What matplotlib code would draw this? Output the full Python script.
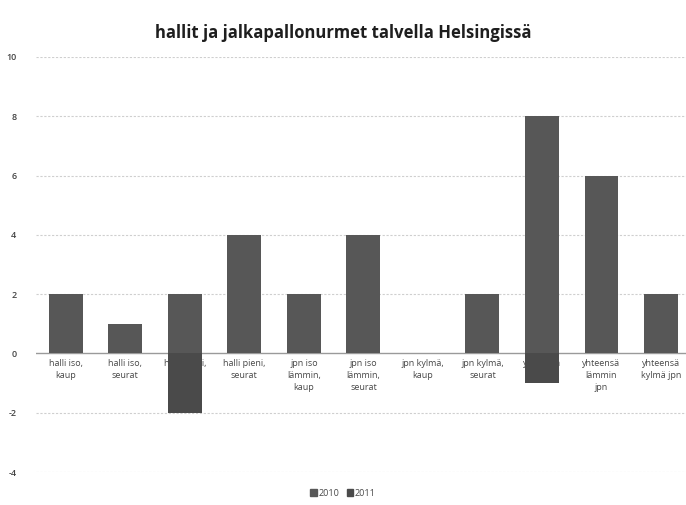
import numpy as np
import matplotlib.pyplot as plt
from matplotlib.patches import Patch

# kategoriat ja arvot luettu kuvasta
categories = ["halli iso,\nkaup", "halli iso,\nseurat", "halli pieni,\nkaup", "halli pieni,\nseurat",
              "jpn iso\nlämmin,\nkaup", "jpn iso\nlämmin,\nseurat", "jpn kylmä,\nkaup", "jpn kylmä,\nseurat",
              "yhteensä\nhallit", "yhteensä\nlämmin\njpn", "yhteensä\nkylmä jpn"]
values_2010 = [2, 1, 2, 4, 2, 4, 0, 2, 8, 6, 2]
values_2011 = [0, 0, -2, 0, 0, 0, 0, 0, -1, 0, 0]
series_names = ["2010", "2011"]
y_ticks = [-4, -2, 0, 2, 4, 6, 8, 10]

plt.rcParams['font.family'] = ['Open Sans', 'DejaVu Sans']

fig = plt.figure(figsize=(6.86, 5.05), dpi=100)
ax = fig.add_axes([36 / 686, 1 - 472 / 505, 1 - 36 / 686, (472 - 57) / 505])

x = np.arange(len(categories))
bar_col = '#575757'
ax.bar(x, values_2010, width=0.57, color=bar_col, zorder=3)
ax.bar(x, values_2011, width=0.57, color='#4a4a4a', zorder=3)

ax.set_ylim(-4, 10)
ax.set_xlim(-0.5, 10.42)
ax.set_yticks(y_ticks)
ax.set_yticklabels([str(t) for t in y_ticks], fontsize=6.5, color='#444444', fontweight='semibold')
ax.tick_params(axis='y', length=0, pad=14)
ax.set_xticks([])
for s in ax.spines.values():
    s.set_visible(False)
for t in y_ticks:
    if t == 0:
        ax.axhline(t, color='#9a9a9a', lw=1.0, zorder=1)
    else:
        ax.axhline(t, color='#cfcfcf', lw=0.8, ls=(0, (2, 1.5)), zorder=1)

# luokkien nimet nollan alapuolella, palkit piirtyvät päälle
for i, lab in enumerate(categories):
    ax.text(i, -0.18, lab, ha='center', va='top', fontsize=6.5, color='#484848',
            linespacing=1.45, zorder=2, clip_on=False)

fig.text(0.5, 1 - 33 / 505, "hallit ja jalkapallonurmet talvella Helsingissä",
         ha='center', va='center', fontsize=12, fontweight='bold', color='#1e1e1e')

handles = [Patch(color=bar_col), Patch(color='#4a4a4a')]
fig.legend(handles, series_names, loc='center', bbox_to_anchor=(0.5, 1 - 493 / 505),
           ncol=2, frameon=False, fontsize=6.5, handlelength=0.7, handleheight=0.7,
           handletextpad=0.2, columnspacing=0.8, labelcolor='#484848')

fig.savefig("out.png", dpi=100, facecolor='white')
